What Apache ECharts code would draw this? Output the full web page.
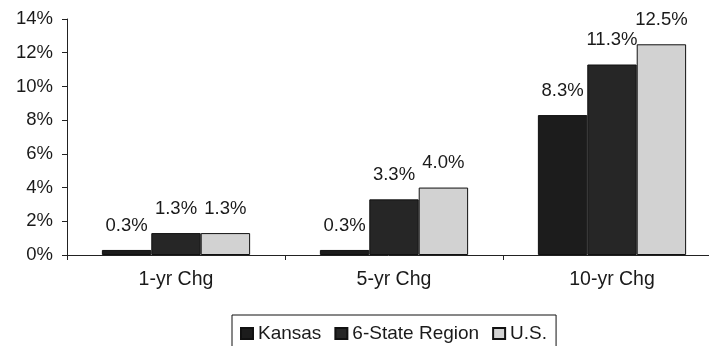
<!DOCTYPE html>
<html>
<head>
<meta charset="utf-8">
<script src="https://cdn.jsdelivr.net/npm/echarts@6/dist/echarts.min.js"></script>
<style>
html,body{margin:0;padding:0;background:#fff;}
#chart{width:709px;height:346px;}
</style>
</head>
<body>
<div id="chart"></div>
<script>
var categories = ['1-yr Chg', '5-yr Chg', '10-yr Chg'];
var seriesNames = ['Kansas', '6-State Region', 'U.S.'];
var kansas = [0.3, 0.3, 8.3];
var region = [1.3, 3.3, 11.3];
var us = [1.3, 4.0, 12.5];
var yTicks = [0, 2, 4, 6, 8, 10, 12, 14];

var FONT = "'Liberation Sans', Arial, sans-serif";
var colors = ['#1c1c1c', '#262626', '#d2d2d2'];
var seriesData = [kansas, region, us];

var chart = echarts.init(document.getElementById('chart'), null, {renderer: 'canvas'});
chart.setOption({
  animation: false,
  backgroundColor: '#ffffff',
  grid: {left: 67, width: 654, top: 19, bottom: 91, containLabel: false, outerBoundsMode: 'none'},
  legend: {
    data: seriesNames,
    left: 232,
    top: 315,
    itemWidth: 12,
    itemHeight: 11,
    itemGap: 13,
    padding: [9, 9, 30, 8],
    borderColor: '#111',
    borderWidth: 1,
    textStyle: {fontFamily: FONT, fontSize: 19, color: '#1a1a1a'},
    icon: 'rect'
  },
  xAxis: {
    type: 'category',
    data: categories,
    axisLine: {lineStyle: {color: '#222', width: 1}},
    axisTick: {show: true, length: 5, lineStyle: {color: '#222'}},
    axisLabel: {fontFamily: FONT, fontSize: 19.5, color: '#1a1a1a', margin: 15}
  },
  yAxis: {
    type: 'value',
    min: yTicks[0],
    max: yTicks[yTicks.length - 1],
    interval: 2,
    axisLine: {show: true, lineStyle: {color: '#222', width: 1}},
    axisTick: {show: true, length: 5, lineStyle: {color: '#222'}},
    splitLine: {show: false},
    axisLabel: {fontFamily: FONT, fontSize: 18.5, color: '#1a1a1a', margin: 14,
      formatter: function (v) { return v + '%'; }}
  },
  series: seriesNames.map(function (name, i) {
    return {
      name: name,
      type: 'bar',
      data: seriesData[i],
      barGap: '0%',
      barCategoryGap: '32%',
      itemStyle: {color: colors[i], borderColor: '#111', borderWidth: 1},
      label: {
        show: true,
        position: 'top',
        distance: 15,
        fontFamily: FONT,
        fontSize: 18.5,
        color: '#1a1a1a',
        formatter: function (p) { return p.value.toFixed(1) + '%'; }
      }
    };
  })
});
</script>
</body>
</html>
